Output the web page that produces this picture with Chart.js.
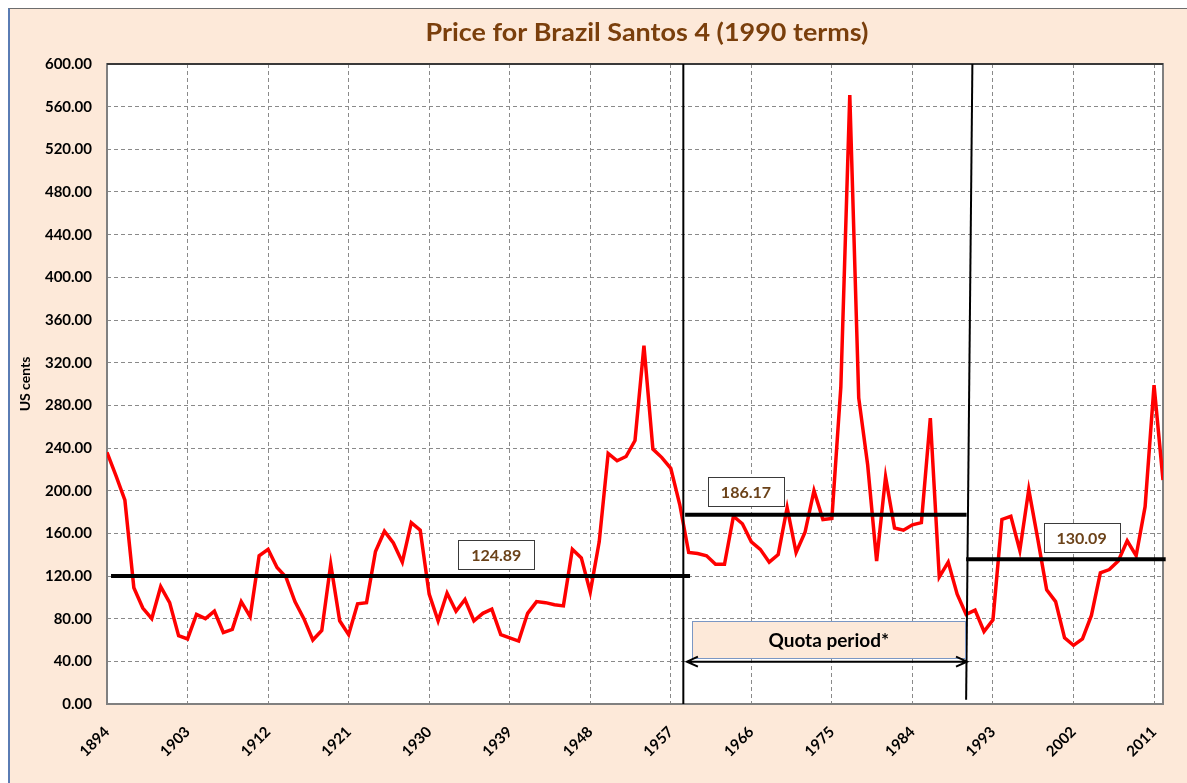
<!DOCTYPE html>
<html lang="en">
<head>
<meta charset="UTF-8">
<title>Price for Brazil Santos 4 (1990 terms)</title>
<script src="https://cdn.jsdelivr.net/npm/chart.js"></script>
<style>
    html, body { margin: 0; padding: 0; background: #ffffff; }
    .frame {
        position: absolute; left: 8px; top: 8px;
        width: 1177px; height: 774px;
        background: #fde9d9;
        border-top: 1px solid #6d6d6d;
        border-left: 2px solid #5a7cb4;
    }
    canvas { display: block; }
</style>
</head>
<body>
<div class="frame">
    <canvas id="priceChart" width="1177" height="774"></canvas>
</div>
<script>
const years = [
    1894, 1895, 1896, 1897, 1898, 1899, 1900, 1901, 1902, 1903,
    1904, 1905, 1906, 1907, 1908, 1909, 1910, 1911, 1912, 1913,
    1914, 1915, 1916, 1917, 1918, 1919, 1920, 1921, 1922, 1923,
    1924, 1925, 1926, 1927, 1928, 1929, 1930, 1931, 1932, 1933,
    1934, 1935, 1936, 1937, 1938, 1939, 1940, 1941, 1942, 1943,
    1944, 1945, 1946, 1947, 1948, 1949, 1950, 1951, 1952, 1953,
    1954, 1955, 1956, 1957, 1958, 1959, 1960, 1961, 1962, 1963,
    1964, 1965, 1966, 1967, 1968, 1969, 1970, 1971, 1972, 1973,
    1974, 1975, 1976, 1977, 1978, 1979, 1980, 1981, 1982, 1983,
    1984, 1985, 1986, 1987, 1988, 1989, 1990, 1991, 1992, 1993,
    1994, 1995, 1996, 1997, 1998, 1999, 2000, 2001, 2002, 2003,
    2004, 2005, 2006, 2007, 2008, 2009, 2010, 2011, 2012
];
const prices = [
    236, 214, 191, 109, 90, 80, 110, 95, 64, 61,
    84, 80, 87, 67, 70, 96, 82, 139, 145, 128,
    119, 96, 80, 60, 69, 131, 78, 65, 94, 95,
    143, 162, 151, 133, 170, 163, 103, 78, 104, 87,
    98, 78, 85, 89, 65, 62, 59, 85, 96, 95,
    93, 92, 145, 137, 105, 152, 235, 228, 232, 247,
    336, 239, 231, 221, 187, 142, 141, 139, 131, 131,
    176, 169, 152, 145, 133, 140, 184, 142, 161, 200,
    173, 174, 297, 571, 287, 224, 134, 213, 165, 163,
    168, 170, 268, 119, 133, 103, 84, 88, 68, 79,
    173, 176, 144, 201, 155, 107, 96, 62, 55, 61,
    83, 123, 126, 134, 153, 139, 185, 299, 210
];
const tickYears = [1894, 1903, 1912, 1921, 1930, 1939, 1948, 1957, 1966, 1975, 1984, 1993, 2002, 2011];

// period averages (drawn lines sit where the original put them)
const periodFrom = [1894.45, 1958.6, 1990.0];
const periodTo = [1959.15, 1990.05, 2012.3];
const periodLevel = [120, 177.5, 135.8];
const periodLabel = ['124.89', '186.17', '130.09'];
const labelYear = [1937.5, 1965.4, 2002.9];
const labelValue = [139.7, 199.2, 156.1];

// quota period markers
const dividerTopYear = [1958.4, 1990.7];
const dividerBottomYear = [1958.4, 1990.0];
const quotaFrom = 1959.4, quotaTo = 1989.9, quotaTop = 77.8, quotaBottom = 43.1;
const arrowFrom = 1958.8, arrowTo = 1990.1, arrowLevel = 39.7;

const FONT = 'Lato, "Open Sans", sans-serif';

const overlays = {
    id: 'overlays',
    beforeDraw(chart) {
        const { ctx, chartArea: a } = chart;
        ctx.save();
        ctx.fillStyle = '#ffffff';
        ctx.fillRect(a.left, a.top, a.right - a.left, a.bottom - a.top);
        ctx.restore();
    },
    beforeDatasetsDraw(chart) {
        const { ctx, chartArea: a } = chart;
        ctx.save();
        ctx.strokeStyle = '#808080';
        ctx.lineWidth = 2;
        ctx.strokeRect(a.left, a.top, a.right - a.left, a.bottom - a.top);
        ctx.strokeStyle = '#222222';
        ctx.lineWidth = 1.5;
        ctx.beginPath();
        ctx.moveTo(a.left, a.top);
        ctx.lineTo(a.right, a.top);
        ctx.stroke();
        ctx.restore();
    },
    afterDatasetsDraw(chart) {
        const { ctx, scales: { x, y } } = chart;
        ctx.save();

        // average lines
        ctx.strokeStyle = '#000000';
        ctx.lineWidth = 4;
        periodLevel.forEach((lvl, i) => {
            ctx.beginPath();
            ctx.moveTo(x.getPixelForValue(periodFrom[i]), y.getPixelForValue(lvl));
            ctx.lineTo(x.getPixelForValue(periodTo[i]), y.getPixelForValue(lvl));
            ctx.stroke();
        });

        // dividers
        ctx.lineWidth = 2;
        dividerTopYear.forEach((yr, i) => {
            ctx.beginPath();
            ctx.moveTo(x.getPixelForValue(yr), y.getPixelForValue(600));
            ctx.lineTo(x.getPixelForValue(dividerBottomYear[i]), y.getPixelForValue(i === 0 ? 0 : 4));
            ctx.stroke();
        });

        // value labels
        ctx.font = 'bold 16px ' + FONT;
        ctx.textAlign = 'center';
        ctx.textBaseline = 'middle';
        periodLabel.forEach((txt, i) => {
            const cx = x.getPixelForValue(labelYear[i]);
            const cy = y.getPixelForValue(labelValue[i]);
            const w = 76, h = 29;
            ctx.fillStyle = '#ffffff';
            ctx.fillRect(cx - w / 2, cy - h / 2, w, h);
            ctx.strokeStyle = '#3a3a3a';
            ctx.lineWidth = 1;
            ctx.strokeRect(Math.round(cx - w / 2) + 0.5, Math.round(cy - h / 2) + 0.5, w, h);
            ctx.fillStyle = '#6b4219';
            ctx.fillText(txt, cx, cy + 1);
        });

        // quota box
        const qx1 = x.getPixelForValue(quotaFrom), qx2 = x.getPixelForValue(quotaTo);
        const qy1 = y.getPixelForValue(quotaTop), qy2 = y.getPixelForValue(quotaBottom);
        ctx.fillStyle = '#fde9d9';
        ctx.fillRect(qx1, qy1, qx2 - qx1, qy2 - qy1);
        ctx.strokeStyle = '#7b97c4';
        ctx.lineWidth = 1;
        ctx.strokeRect(Math.round(qx1) + 0.5, Math.round(qy1) + 0.5, Math.round(qx2 - qx1), Math.round(qy2 - qy1));
        ctx.fillStyle = '#000000';
        ctx.font = 'bold 19px ' + FONT;
        ctx.fillText('Quota period*', (qx1 + qx2) / 2, (qy1 + qy2) / 2 + 1);

        // double arrow
        const ax1 = x.getPixelForValue(arrowFrom), ax2 = x.getPixelForValue(arrowTo);
        const ay = y.getPixelForValue(arrowLevel);
        ctx.strokeStyle = '#000000';
        ctx.lineWidth = 2;
        ctx.beginPath();
        ctx.moveTo(ax1, ay);
        ctx.lineTo(ax2, ay);
        ctx.moveTo(ax1 + 11, ay - 5);
        ctx.lineTo(ax1, ay);
        ctx.lineTo(ax1 + 11, ay + 5);
        ctx.moveTo(ax2 - 11, ay - 5);
        ctx.lineTo(ax2, ay);
        ctx.lineTo(ax2 - 11, ay + 5);
        ctx.stroke();

        ctx.restore();
    },
    afterDraw(chart) {
        // title, stretched a little to the width of the original
        const { ctx } = chart;
        const text = 'Price for Brazil Santos 4 (1990 terms)';
        ctx.save();
        ctx.font = 'bold 24px ' + FONT;
        ctx.fillStyle = '#7a3f0c';
        ctx.textAlign = 'center';
        ctx.textBaseline = 'alphabetic';
        const stretch = 443 / ctx.measureText(text).width;
        ctx.translate(637, 32);
        ctx.scale(stretch, 1);
        ctx.fillText(text, 0, 0);
        ctx.restore();
    }
};

const tickFont = { family: FONT, weight: 'bold', size: 15 };

new Chart(document.getElementById('priceChart').getContext('2d'), {
    type: 'line',
    data: {
        datasets: [{
            label: 'Price',
            data: years.map((yr, i) => ({ x: yr, y: prices[i] })),
            borderColor: '#ff0000',
            borderWidth: 3.5,
            pointRadius: 0,
            tension: 0,
            fill: false
        }]
    },
    options: {
        responsive: false,
        animation: false,
        devicePixelRatio: 1,
        layout: { padding: { top: 55, right: 24, left: 0, bottom: 0 } },
        plugins: {
            legend: { display: false },
            tooltip: { enabled: false },
            title: { display: false }
        },
        scales: {
            x: {
                type: 'linear',
                min: 1894,
                max: 2012,
                afterBuildTicks: (s) => { s.ticks = tickYears.map(v => ({ value: v })); },
                afterFit: (s) => { s.height = 79; },
                grid: { color: '#8a8a8a', lineWidth: 1, drawTicks: false },
                border: { display: false, dash: [4, 3] },
                ticks: {
                    autoSkip: false, minRotation: 45, maxRotation: 45, padding: 19,
                    color: '#000000', font: tickFont,
                    callback: (v) => String(v)
                }
            },
            y: {
                min: 0,
                max: 600,
                afterFit: (s) => { s.width = 97; },
                grid: { color: '#8a8a8a', lineWidth: 1, drawTicks: false },
                border: { display: false, dash: [4, 3] },
                ticks: {
                    stepSize: 40, padding: 15, color: '#000000', font: tickFont,
                    callback: (v) => v.toFixed(2)
                },
                title: {
                    display: true, text: 'US cents', color: '#000000',
                    font: { family: FONT, weight: 'bold', size: 14 },
                    padding: { top: 7, bottom: 0 }
                }
            }
        }
    },
    plugins: [overlays]
});
</script>
</body>
</html>
